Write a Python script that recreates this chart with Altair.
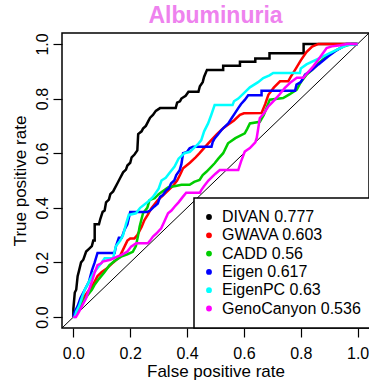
import altair as alt
import pandas as pd

methods = ["DIVAN", "GWAVA", "CADD", "Eigen", "EigenPC", "GenoCanyon"]
aucs = ["0.777", "0.603", "0.56", "0.617", "0.63", "0.536"]
colors = ["#000000", "#FF0000", "#00CD00", "#0000FF", "#00FFFF", "#FF00FF"]

divan_fpr = [0, 0.0, 0.005, 0.01, 0.015, 0.02, 0.027, 0.035, 0.045, 0.055, 0.065, 0.07, 0.075, 0.075, 0.09, 0.095,
             0.103, 0.11, 0.115, 0.125, 0.13, 0.14, 0.145, 0.155, 0.165, 0.175, 0.185, 0.19, 0.2, 0.205, 0.215,
             0.225, 0.228, 0.24, 0.245, 0.255, 0.265, 0.27, 0.28, 0.29, 0.305, 0.36, 0.365, 0.375, 0.38, 0.395,
             0.405, 0.44, 0.445, 0.455, 0.46, 0.47, 0.527, 0.527, 0.586, 0.586, 0.64, 0.64, 0.69, 0.69, 0.81,
             0.81, 1.0]
divan_tpr = [0, 0.03, 0.09, 0.1, 0.15, 0.17, 0.2, 0.21, 0.24, 0.25, 0.26, 0.28, 0.28, 0.34, 0.34, 0.36,
             0.385, 0.39, 0.42, 0.43, 0.45, 0.46, 0.47, 0.49, 0.51, 0.53, 0.54, 0.555, 0.565, 0.585, 0.595,
             0.61, 0.67, 0.68, 0.69, 0.70, 0.72, 0.73, 0.74, 0.755, 0.765, 0.765, 0.785, 0.79, 0.80, 0.81,
             0.825, 0.825, 0.845, 0.86, 0.88, 0.905, 0.905, 0.92, 0.92, 0.935, 0.935, 0.947, 0.947, 0.966, 0.966,
             1.0, 1.0]

gwava_fpr = [0, 0.01, 0.02, 0.035, 0.056, 0.07, 0.085, 0.1, 0.12, 0.14, 0.162, 0.174, 0.19, 0.2, 0.215, 0.225,
             0.24, 0.25, 0.262, 0.274, 0.297, 0.31, 0.33, 0.35, 0.365, 0.375, 0.386, 0.41, 0.43, 0.444, 0.465,
             0.486, 0.505, 0.527, 0.545, 0.565, 0.586, 0.6, 0.662, 0.675, 0.686, 0.705, 0.727, 0.756, 0.765,
             0.78, 0.8, 0.82, 0.84, 0.862, 1.0]
gwava_tpr = [0, 0.02, 0.04, 0.07, 0.1, 0.12, 0.15, 0.165, 0.18, 0.2, 0.22, 0.245, 0.28, 0.288, 0.288, 0.3,
             0.33, 0.355, 0.375, 0.398, 0.428, 0.44, 0.46, 0.48, 0.5, 0.52, 0.545, 0.565, 0.585, 0.6, 0.625,
             0.649, 0.67, 0.691, 0.705, 0.72, 0.74, 0.746, 0.747, 0.78, 0.814, 0.84, 0.863, 0.863, 0.88,
             0.905, 0.94, 0.97, 0.99, 1.0, 1.0]

cadd_fpr = [0, 0.01, 0.02, 0.035, 0.05, 0.065, 0.074, 0.09, 0.11, 0.127, 0.145, 0.168, 0.19, 0.209, 0.22,
            0.228, 0.233, 0.24, 0.245, 0.26, 0.268, 0.286, 0.3, 0.333, 0.36, 0.38, 0.409, 0.425, 0.444, 0.455,
            0.468, 0.485, 0.497, 0.51, 0.527, 0.544, 0.57, 0.603, 0.612, 0.621, 0.656, 0.67, 0.691, 0.738,
            0.76, 0.786, 0.8, 0.821, 0.84, 0.862, 0.88, 0.909, 0.93, 0.95, 0.98, 1.0]
cadd_tpr = [0, 0.01, 0.03, 0.06, 0.08, 0.1, 0.117, 0.14, 0.165, 0.19, 0.205, 0.221, 0.23, 0.239, 0.26,
            0.3, 0.331, 0.36, 0.38, 0.4, 0.428, 0.435, 0.45, 0.475, 0.48, 0.484, 0.484, 0.495, 0.502, 0.52,
            0.532, 0.55, 0.563, 0.58, 0.6, 0.636, 0.655, 0.673, 0.69, 0.709, 0.715, 0.74, 0.796, 0.802,
            0.815, 0.833, 0.86, 0.888, 0.905, 0.93, 0.945, 0.967, 0.98, 0.99, 1.0, 1.0]

eigen_fpr = [0, 0.005, 0.015, 0.025, 0.035, 0.045, 0.055, 0.065, 0.075, 0.085, 0.145, 0.15, 0.16, 0.17, 0.18,
             0.19, 0.2, 0.26, 0.27, 0.285, 0.297, 0.305, 0.315, 0.327, 0.335, 0.344, 0.355, 0.362, 0.374, 0.38,
             0.386, 0.4, 0.409, 0.421, 0.486, 0.49, 0.497, 0.51, 0.521, 0.533, 0.545, 0.555, 0.568, 0.58, 0.59,
             0.603, 0.615, 0.662, 0.662, 0.78, 0.785, 0.8, 0.815, 0.84, 0.862, 0.88, 0.897, 0.921, 0.94, 0.96,
             1.0]
eigen_tpr = [0, 0.02, 0.04, 0.07, 0.09, 0.11, 0.13, 0.17, 0.2, 0.235, 0.235, 0.26, 0.29, 0.29, 0.32,
             0.34, 0.385, 0.385, 0.39, 0.405, 0.416, 0.44, 0.447, 0.465, 0.47, 0.49, 0.5, 0.52, 0.538, 0.56,
             0.6, 0.605, 0.618, 0.624, 0.624, 0.64, 0.654, 0.67, 0.685, 0.697, 0.709, 0.725, 0.746, 0.765, 0.78,
             0.795, 0.812, 0.812, 0.829, 0.829, 0.851, 0.86, 0.888, 0.905, 0.925, 0.94, 0.955, 0.973, 0.985, 1.0,
             1.0]

eigenpc_fpr = [0, 0.005, 0.01, 0.02, 0.03, 0.04, 0.05, 0.06, 0.07, 0.085, 0.1, 0.11, 0.14, 0.145, 0.15, 0.165,
               0.175, 0.185, 0.195, 0.22, 0.235, 0.26, 0.28, 0.3, 0.31, 0.325, 0.34, 0.356, 0.37, 0.391, 0.41,
               0.42, 0.44, 0.45, 0.46, 0.474, 0.485, 0.497, 0.56, 0.565, 0.58, 0.6, 0.621, 0.65, 0.668, 0.69,
               0.703, 0.797, 0.8, 0.82, 0.84, 0.87, 0.9, 0.93, 0.96, 1.0]
eigenpc_tpr = [0, 0.0, 0.02, 0.04, 0.07, 0.1, 0.12, 0.14, 0.16, 0.18, 0.2, 0.215, 0.215, 0.24, 0.26, 0.28,
               0.3, 0.34, 0.374, 0.38, 0.4, 0.42, 0.44, 0.47, 0.5, 0.51, 0.53, 0.551, 0.58, 0.6, 0.605,
               0.615, 0.635, 0.648, 0.68, 0.709, 0.74, 0.776, 0.776, 0.79, 0.8, 0.82, 0.841, 0.86, 0.875, 0.885,
               0.894, 0.894, 0.91, 0.925, 0.935, 0.95, 0.965, 0.98, 0.995, 1.0]

geno_fpr = [0, 0.009, 0.02, 0.03, 0.045, 0.055, 0.065, 0.074, 0.085, 0.098, 0.103, 0.13, 0.156, 0.168, 0.19,
            0.203, 0.221, 0.262, 0.27, 0.28, 0.292, 0.309, 0.32, 0.333, 0.345, 0.356, 0.37, 0.385, 0.397, 0.445,
            0.45, 0.46, 0.475, 0.49, 0.5, 0.515, 0.58, 0.59, 0.603, 0.621, 0.64, 0.645, 0.656, 0.67, 0.685,
            0.709, 0.725, 0.744, 0.765, 0.786, 0.809, 0.82, 0.844, 0.86, 0.874, 0.891, 0.909, 0.94, 0.962, 1.0]
geno_tpr = [0, 0.0, 0.02, 0.04, 0.07, 0.1, 0.13, 0.16, 0.19, 0.197, 0.203, 0.21, 0.222, 0.227, 0.24,
            0.258, 0.27, 0.27, 0.28, 0.295, 0.306, 0.325, 0.35, 0.38, 0.39, 0.404, 0.42, 0.44, 0.455, 0.455,
            0.465, 0.48, 0.5, 0.515, 0.525, 0.538, 0.538, 0.57, 0.606, 0.619, 0.64, 0.656, 0.729, 0.745, 0.77,
            0.796, 0.815, 0.839, 0.86, 0.876, 0.876, 0.89, 0.918, 0.94, 0.96, 0.985, 0.991, 0.995, 1.0, 1.0]

tick_values = [0.0, 0.2, 0.4, 0.6, 0.8, 1.0]
diag_x = [-0.04, 1.04]
diag_y = [-0.04, 1.04]

series_fpr = [divan_fpr, gwava_fpr, cadd_fpr, eigen_fpr, eigenpc_fpr, geno_fpr]
series_tpr = [divan_tpr, gwava_tpr, cadd_tpr, eigen_tpr, eigenpc_tpr, geno_tpr]
labels = [f"{m} {a}" for m, a in zip(methods, aucs)]

rows = []
for lab, xs, ys in zip(labels, series_fpr, series_tpr):
    for i, (x, y) in enumerate(zip(xs, ys)):
        rows.append({"label": lab, "fpr": x, "tpr": y, "i": i})
df = pd.DataFrame(rows)
diag_df = pd.DataFrame({"fpr": diag_x, "tpr": diag_y, "i": [0, 1]})

FONT = "Liberation Sans"
dom = [-0.04, 1.04]

x_enc = alt.X("fpr:Q", scale=alt.Scale(domain=dom, nice=False, zero=False),
              axis=alt.Axis(values=tick_values, format=".1f", title="False positive rate",
                            labelPadding=8, titlePadding=2))
y_enc = alt.Y("tpr:Q", scale=alt.Scale(domain=dom, nice=False, zero=False),
              axis=alt.Axis(values=tick_values, format=".1f", title="True positive rate",
                            labelAngle=-90, labelAlign="center", labelBaseline="bottom",
                            labelPadding=3, titlePadding=5))

legend = alt.Legend(title=None, orient="none", legendX=132, legendY=165,
                    strokeColor="black", fillColor="white", padding=11,
                    symbolType="circle", symbolSize=8, symbolStrokeWidth=3, symbolOffset=-4,
                    labelFontSize=16, labelFont=FONT, labelColor="black",
                    rowPadding=2.3, labelOffset=5)
color_enc = alt.Color("label:N", scale=alt.Scale(domain=labels, range=colors), legend=legend)

diag = alt.Chart(diag_df).mark_line(color="black", strokeWidth=1).encode(x=x_enc, y=y_enc)

layers = [diag]
for lab in labels:
    layers.append(
        alt.Chart(df).transform_filter(alt.datum.label == lab)
        .mark_line(strokeWidth=2.5)
        .encode(x=x_enc, y=y_enc, color=color_enc, order=alt.Order("i:Q"))
    )

chart = alt.layer(*layers).properties(
    width=307, height=295,
    autosize=alt.AutoSizeParams(type="none"),
    padding={"left": 62, "top": 33, "right": 0, "bottom": 60},
    title=alt.Title("Albuminuria", fontSize=23, fontWeight="bold", color="#EE82EE", font=FONT,
                    anchor="middle", offset=3),
).configure_view(
    stroke="black", strokeWidth=1.5
).configure_axis(
    grid=False, domain=False, tickSize=9, tickWidth=1.2, tickColor="black",
    labelFont=FONT, labelFontSize=16, labelColor="black",
    titleFont=FONT, titleFontSize=17, titleFontWeight="normal", titleColor="black"
).configure_legend(
    strokeWidth=1.5
)

chart.save("out.html", embed_options={"renderer": "svg", "actions": False})
